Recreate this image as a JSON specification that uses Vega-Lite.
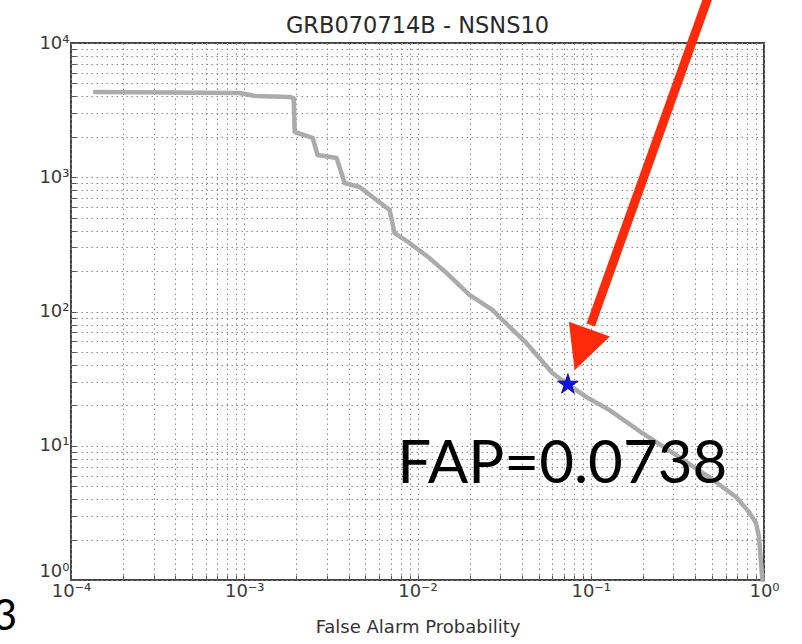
{
  "$schema": "https://vega.github.io/schema/vega-lite/v6.json",
  "autosize": "none",
  "width": 693,
  "height": 537,
  "padding": {"left": 71, "top": 43, "right": 38, "bottom": 64},
  "background": "white",
  "title": {
    "text": "GRB070714B - NSNS10",
    "font": "DejaVu Sans",
    "fontSize": 22.5,
    "fontWeight": "normal",
    "color": "#2a2a2a",
    "anchor": "middle",
    "frame": "group",
    "baseline": "alphabetic",
    "offset": 7,
    "dy": 77
  },
  "config": {
    "view": {"stroke": "#444444", "strokeWidth": 2},
    "axis": {
      "domain": false,
      "grid": true,
      "gridColor": "#8a8a8a",
      "gridDash": [1.5, 3.5],
      "gridWidth": 1,
      "ticks": true,
      "tickSize": -5,
      "tickColor": "#555555",
      "labelFont": "DejaVu Sans",
      "labelFontSize": 18,
      "labelColor": "#3a3a3a",
      "labelFlush": false,
      "labelOverlap": false,
      "titleFont": "DejaVu Sans",
      "titleFontWeight": "normal",
      "titleColor": "#333333"
    }
  },
  "datasets": {
    "curve": [
      {"fap": 0.0001375, "stat": 4315},
      {"fap": 0.000942, "stat": 4242},
      {"fap": 0.00115, "stat": 4027},
      {"fap": 0.001829, "stat": 3962},
      {"fap": 0.001929, "stat": 3890},
      {"fap": 0.001954, "stat": 2173},
      {"fap": 0.002482, "stat": 1961},
      {"fap": 0.002652, "stat": 1464},
      {"fap": 0.003412, "stat": 1391},
      {"fap": 0.003795, "stat": 906},
      {"fap": 0.00463, "stat": 846},
      {"fap": 0.0058, "stat": 677},
      {"fap": 0.0069, "stat": 570},
      {"fap": 0.00737, "stat": 384},
      {"fap": 0.00899, "stat": 324},
      {"fap": 0.01173, "stat": 250},
      {"fap": 0.01469, "stat": 194},
      {"fap": 0.01994, "stat": 133},
      {"fap": 0.02705, "stat": 103},
      {"fap": 0.0297, "stat": 91},
      {"fap": 0.0425, "stat": 58.3},
      {"fap": 0.06, "stat": 34.8},
      {"fap": 0.0738, "stat": 28.6},
      {"fap": 0.0942, "stat": 23.1},
      {"fap": 0.1278, "stat": 18.5},
      {"fap": 0.198, "stat": 12.45},
      {"fap": 0.311, "stat": 8.53},
      {"fap": 0.482, "stat": 5.85},
      {"fap": 0.69, "stat": 4.15},
      {"fap": 0.819, "stat": 3.21},
      {"fap": 0.899, "stat": 2.66},
      {"fap": 0.936, "stat": 2.09},
      {"fap": 0.961, "stat": 1.34},
      {"fap": 0.98, "stat": 1.0}
    ],
    "event": [
      {"fap": 0.0738, "stat": 28.6, "label": "FAP=0.0738", "labelFap": 0.0685, "labelStat": 5.25}
    ],
    "arrowShaft": [
      {"fap": 0.4923, "stat": 24815, "fap2": 0.1, "stat2": 79.4}
    ],
    "arrowHead": [
      {"fap": 0.089, "stat": 51.9}
    ],
    "slide": [
      {"fap": 0.00004884, "stat": 0.4242, "label": "3"}
    ]
  },
  "layer": [
    {
      "data": {"name": "curve"},
      "mark": {"type": "line", "color": "#ababab", "strokeWidth": 4.5, "strokeCap": "round", "strokeJoin": "round"},
      "encoding": {
        "x": {
          "field": "fap",
          "type": "quantitative",
          "scale": {"type": "log", "domain": [0.0001, 1], "nice": false},
          "axis": {
            "title": "False Alarm Probability",
            "titleFontSize": 18,
            "titleBaseline": "alphabetic",
            "titleY": 52,
            "labelPadding": 7,
            "values": [0.0001, 0.0002, 0.0003, 0.0004, 0.0005, 0.0006, 0.0007, 0.0008, 0.0009,
                       0.001, 0.002, 0.003, 0.004, 0.005, 0.006, 0.007, 0.008, 0.009,
                       0.01, 0.02, 0.03, 0.04, 0.05, 0.06, 0.07, 0.08, 0.09,
                       0.1, 0.2, 0.3, 0.4, 0.5, 0.6, 0.7, 0.8, 0.9, 1],
            "labelExpr": "datum.value === 0.0001 ? '10⁻⁴' : datum.value === 0.001 ? '10⁻³' : datum.value === 0.01 ? '10⁻²' : datum.value === 0.1 ? '10⁻¹' : datum.value === 1 ? '10⁰' : ''"
          }
        },
        "y": {
          "field": "stat",
          "type": "quantitative",
          "scale": {"type": "log", "domain": [1, 10000], "nice": false},
          "axis": {
            "title": null,
            "labelPadding": 7,
            "labelBaseline": {"condition": {"test": "datum.value === 1", "value": "bottom"}, "value": "middle"},
            "values": [1, 2, 3, 4, 5, 6, 7, 8, 9,
                       10, 20, 30, 40, 50, 60, 70, 80, 90,
                       100, 200, 300, 400, 500, 600, 700, 800, 900,
                       1000, 2000, 3000, 4000, 5000, 6000, 7000, 8000, 9000, 10000],
            "labelExpr": "datum.value === 1 ? '10⁰' : datum.value === 10 ? '10¹' : datum.value === 100 ? '10²' : datum.value === 1000 ? '10³' : datum.value === 10000 ? '10⁴' : ''"
          }
        }
      }
    },
    {
      "data": {"name": "arrowShaft"},
      "mark": {"type": "rule", "color": "#ff2a0a", "strokeWidth": 9, "clip": false},
      "encoding": {
        "x": {"field": "fap", "type": "quantitative"},
        "y": {"field": "stat", "type": "quantitative"},
        "x2": {"field": "fap2"},
        "y2": {"field": "stat2"}
      }
    },
    {
      "data": {"name": "arrowHead"},
      "mark": {
        "type": "point",
        "shape": "M-1,-1L1,-1L0,1Z",
        "filled": true,
        "color": "#ff2a0a",
        "opacity": 1,
        "size": 1900,
        "angle": 19.8,
        "clip": false
      },
      "encoding": {
        "x": {"field": "fap", "type": "quantitative"},
        "y": {"field": "stat", "type": "quantitative"}
      }
    },
    {
      "data": {"name": "event"},
      "mark": {
        "type": "point",
        "shape": "M0,-1L0.2245,-0.309L0.951,-0.309L0.363,0.118L0.588,0.809L0,0.382L-0.588,0.809L-0.363,0.118L-0.951,-0.309L-0.2245,-0.309Z",
        "filled": true,
        "fill": "#1010ee",
        "stroke": "#000066",
        "strokeWidth": 0.8,
        "opacity": 1,
        "size": 470
      },
      "encoding": {
        "x": {"field": "fap", "type": "quantitative"},
        "y": {"field": "stat", "type": "quantitative"}
      }
    },
    {
      "data": {"name": "event"},
      "mark": {
        "type": "text",
        "font": "Lato",
        "fontSize": 60,
        "color": "#000000",
        "align": "center",
        "baseline": "alphabetic",
        "clip": false
      },
      "encoding": {
        "x": {"field": "labelFap", "type": "quantitative"},
        "y": {"field": "labelStat", "type": "quantitative"},
        "text": {"field": "label"}
      }
    },
    {
      "data": {"name": "slide"},
      "mark": {
        "type": "text",
        "font": "Lato",
        "fontSize": 42,
        "color": "#000000",
        "align": "right",
        "baseline": "alphabetic",
        "clip": false
      },
      "encoding": {
        "x": {"field": "fap", "type": "quantitative"},
        "y": {"field": "stat", "type": "quantitative"},
        "text": {"field": "label"}
      }
    }
  ]
}
